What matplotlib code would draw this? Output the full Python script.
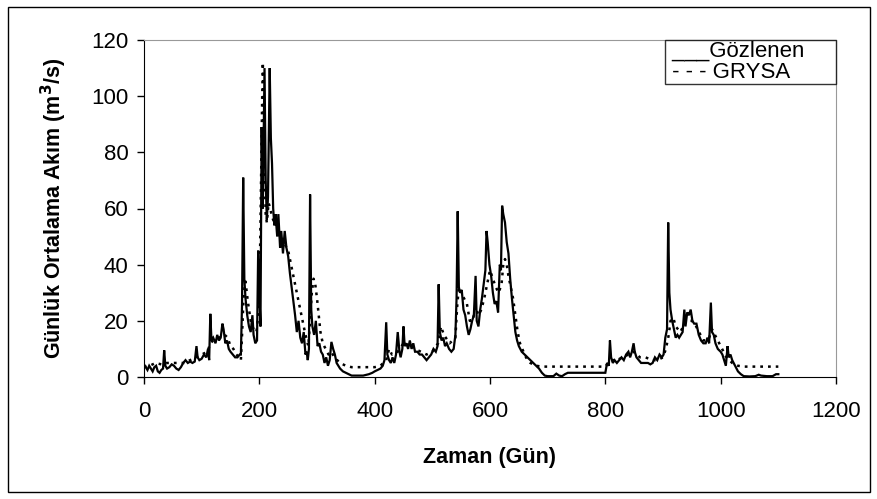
import matplotlib
matplotlib.use("Agg")
import matplotlib.pyplot as plt
from matplotlib.patches import Rectangle

plt.rcParams['font.family'] = ['Liberation Sans', 'DejaVu Sans']

obs_day = [0, 3, 6, 9, 12, 15, 18, 21, 24, 27, 30, 33, 35, 37, 40, 44, 48, 52, 56, 60,
           64, 68, 72, 76, 80, 84, 88, 91, 93, 96, 100, 104, 108, 111, 113, 115, 117, 120,
           124, 127, 130, 133, 136, 138, 141, 144, 147, 150, 154, 158, 162, 166, 168, 170,
           172, 174, 176, 179, 182, 185, 188, 190, 193, 196, 198, 200, 202, 204, 206, 209,
           211, 213, 215, 218, 220, 222, 224, 226, 228, 231, 233, 236, 238, 241, 244, 247,
           250, 253, 256, 259, 262, 265, 268, 271, 274, 277, 280, 282, 284, 286, 288, 290,
           292, 295, 298, 301, 304, 307, 310, 313, 316, 319, 322, 325, 328, 331, 334, 337,
           340, 345, 350, 355, 360, 370, 380, 390, 396, 400, 405, 410, 414, 417, 420, 422,
           425, 428, 431, 434, 437, 440, 443, 445, 448, 450, 452, 455, 458, 461, 464, 467,
           470, 474, 478, 482, 486, 490, 494, 498, 502, 506, 509, 511, 513, 516, 519, 522,
           525, 529, 533, 537, 540, 542, 544, 546, 548, 551, 554, 557, 560, 563, 566, 569,
           572, 575, 577, 580, 583, 586, 589, 592, 594, 596, 599, 602, 605, 608, 611, 614,
           617, 619, 621, 623, 626, 629, 632, 635, 638, 641, 644, 647, 650, 655, 660, 665,
           670, 675, 680, 685, 690, 695, 700, 710, 715, 720, 725, 730, 735, 745, 760, 775,
           790, 800, 803, 806, 808, 810, 813, 816, 820, 824, 828, 832, 836, 840, 843, 846,
           849, 851, 854, 858, 862, 866, 870, 874, 878, 882, 886, 890, 894, 898, 901, 904,
           907, 909, 911, 913, 916, 919, 922, 925, 928, 931, 934, 937, 939, 942, 945, 948,
           951, 954, 958, 962, 966, 970, 974, 977, 980, 983, 985, 988, 991, 995, 1000, 1003,
           1006, 1009, 1012, 1014, 1017, 1020, 1025, 1030, 1035, 1040, 1050, 1060, 1066,
           1070, 1080, 1090, 1096, 1100]
obs_val = [4.5, 3.5, 2.5, 4, 3, 2, 3.5, 4, 2, 1.5, 2.5, 3, 9.5, 4, 3, 3.5, 4.5, 4, 3, 2.5,
           3.5, 5, 6, 5, 5.5, 5, 5.5, 11, 7, 6, 6.5, 8, 7, 10, 6, 22.5, 13, 14,
           12, 15, 13, 14, 19, 17, 12, 13, 10, 9, 8, 7, 7, 8, 8, 26,
           71, 35, 28, 22, 18, 16, 22, 15, 12, 13, 45, 30, 18, 89, 60, 110,
           70, 56, 64, 110, 85, 76, 60, 54, 58, 50, 58, 46, 52, 44, 52, 46,
           43, 37, 32, 27, 22, 16, 20, 14, 12, 16, 8, 9, 6, 10, 65, 24,
           18, 15, 20, 11, 12, 9, 8, 5, 7, 4, 6, 12.5, 10, 8, 5, 4,
           3, 2, 1.5, 1, 0.5, 0.5, 0.5, 1, 1.5, 2, 2.5, 3, 4, 6, 19.5, 8,
           6, 5, 7, 5, 8, 16, 9, 7, 10, 18, 11, 12, 10, 13, 10, 12,
           9, 9, 8, 8, 7, 6, 7, 8, 10, 9, 11, 33, 16, 13, 14, 11,
           12, 10, 9, 10, 15, 28, 59, 32, 30, 31, 24, 22, 18, 15, 17, 20,
           22, 36, 20, 18, 24, 28, 33, 38, 52, 48, 40, 36, 30, 26, 27, 23,
           40, 38, 61, 58, 55, 48, 44, 35, 28, 22, 16, 13, 11, 9, 8, 7,
           6, 5, 4, 3, 1.5, 0.5, 0.3, 0.3, 1.2, 0.5, 0.3, 1, 1.5, 1.5, 1.5, 1.5,
           1.5, 1.5, 5, 4, 13, 7, 5, 6, 5, 6, 7, 6, 8, 9, 7, 9,
           12, 9, 7, 6, 5, 5, 5, 5, 4.5, 5, 7, 6, 8, 7, 8, 14,
           17, 55, 30, 24, 20, 17, 14, 15, 14, 15, 16, 24, 18, 23, 22, 24,
           20, 19, 19, 15, 13, 12, 12, 14, 12, 26.5, 16, 15, 12, 10, 9, 8,
           6, 4, 11, 7, 8, 6, 4, 2, 1, 0.3, 0.2, 0.3, 0.8,
           0.5, 0.3, 0.3, 1, 1]

# GRYSA model output
sim_day = [0, 10, 20, 30, 40, 50, 60, 70, 80, 90, 100, 110, 115, 120, 130, 140, 145, 150,
           155, 160, 165, 168, 170, 173, 176, 180, 185, 190, 195, 198, 201, 203, 205, 206,
           207, 209, 211, 213, 216, 219, 222, 226, 230, 235, 240, 245, 250, 255, 260, 265,
           270, 275, 280, 285, 288, 291, 294, 297, 300, 303, 306, 310, 315, 320, 325, 330,
           335, 340, 350, 360, 380, 400, 410, 420, 425, 430, 440, 450, 455, 460, 470, 480,
           490, 500, 510, 515, 520, 530, 540, 543, 546, 550, 555, 560, 565, 570, 575, 580,
           585, 590, 595, 600, 605, 610, 615, 620, 623, 626, 629, 632, 636, 640, 644, 648,
           652, 656, 660, 665, 670, 680, 690, 700, 750, 800, 805, 810, 820, 830, 840, 850,
           860, 870, 880, 890, 900, 905, 910, 913, 918, 922, 926, 930, 935, 940, 945, 950,
           955, 960, 965, 970, 975, 980, 985, 990, 995, 1000, 1005, 1010, 1015, 1020, 1030,
           1040, 1100]
sim_val = [3.5, 4, 5, 4.5, 5, 5, 5, 5, 6, 7, 8, 9, 12, 13, 14, 15, 14, 11,
           10, 8, 7, 6, 15, 30, 34, 27, 20, 17, 16, 22, 40, 70, 100, 112,
           105, 75, 58, 55, 62, 60, 57, 55, 55, 50, 49, 47, 45, 40, 35, 30,
           25, 20, 15, 11, 20, 30, 35, 33, 28, 22, 16, 12, 10, 8, 9, 7,
           6, 5, 4, 3.5, 3.5, 3.5, 4, 6, 10, 8, 9, 12, 11, 12, 10, 9,
           8, 9, 12, 18, 15, 12, 14, 25, 32, 30, 28, 26, 20, 20, 25, 22,
           24, 28, 33, 38, 35, 32, 30, 33, 40, 42, 40, 36, 32, 28, 22, 16,
           12, 10, 8, 6, 5, 4, 3.7, 3.7, 3.7, 3.7, 5, 6, 6, 7, 8, 9,
           7, 7, 6, 6, 7, 10, 15, 20, 21, 18, 17, 16, 18, 20, 20, 20,
           19, 17, 15, 13, 13, 14, 17, 15, 13, 11, 9, 7, 6, 5, 4,
           3.7, 3.7]

x_ticks = [0, 200, 400, 600, 800, 1000, 1200]
y_ticks = [0, 20, 40, 60, 80, 100, 120]

fig = plt.figure(figsize=(8.78, 4.99), dpi=100)
ax = fig.add_axes([144/878, 1 - 377/499, (836 - 144)/878, (377 - 40)/499])

l1, = ax.plot(obs_day, obs_val, color='black', linewidth=1.6, solid_joinstyle='miter')
l2, = ax.plot(sim_day, sim_val, color='black', linewidth=1.8, linestyle=(0, (1.1, 2.0)))

ax.set_xlim(0, 1200)
ax.set_ylim(0, 120)
ax.set_xticks(x_ticks)
ax.set_yticks(y_ticks)
ax.tick_params(direction='out', length=5, width=1, labelsize=16, pad=6)
ax.tick_params(axis='x', pad=12)

for s in ['top', 'right']:
    ax.spines[s].set_color('#999999')
for s in ['left', 'bottom']:
    ax.spines[s].set_color('black')

ax.set_xlabel('Zaman (Gün)', fontsize=15.5, fontweight='bold', labelpad=18)
ax.set_ylabel('Günlük Ortalama Akım (m$^{\\mathbf{3}}$/s)', fontsize=15.5, fontweight='bold', labelpad=16)

leg = ax.legend([l1, l2], [' ___Gözlenen     ', ' - - - GRYSA     '], loc='upper right',
                handlelength=0, handletextpad=0, fontsize=16, frameon=True,
                fancybox=False, borderaxespad=0, borderpad=0.05, labelspacing=0.0)
leg.get_frame().set_edgecolor('black')
leg.get_frame().set_linewidth(1.0)

fig.patches.append(Rectangle((8/878, 7/499), (870 - 8)/878, (492 - 7)/499,
                             transform=fig.transFigure, fill=False,
                             edgecolor='black', linewidth=1.0))

fig.savefig('out.png', dpi=100)
